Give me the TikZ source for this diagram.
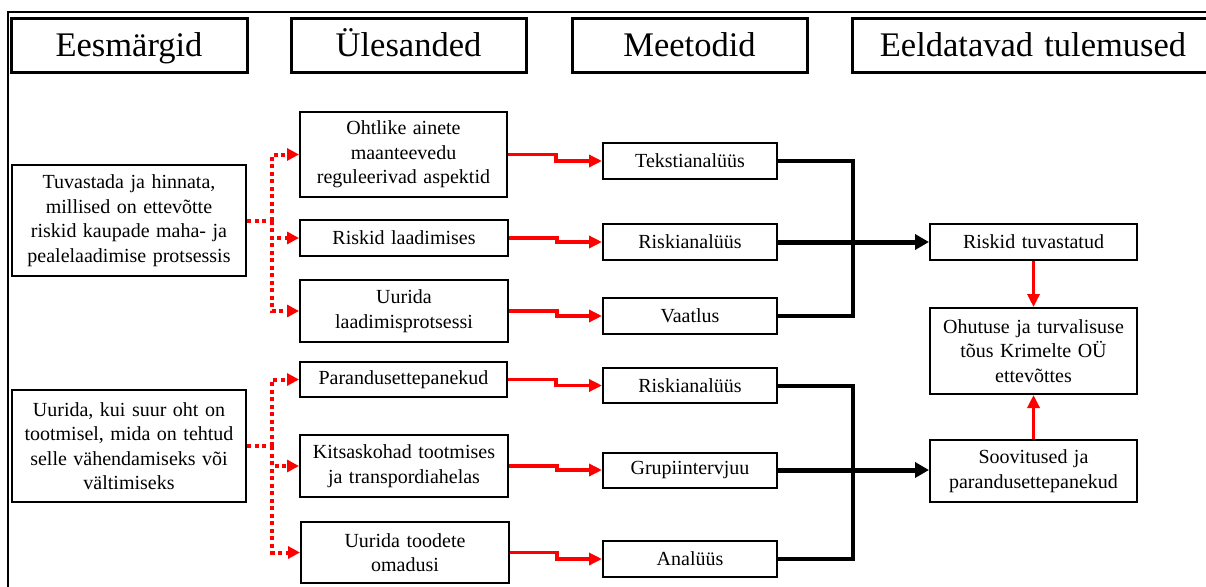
\documentclass[tikz,border=0pt]{standalone}
\usepackage{fontspec}
\setmainfont{Liberation Serif}[WordSpace=1.3]
\usetikzlibrary{arrows.meta}
\begin{document}
\begin{tikzpicture}[x=1pt,y=-1pt,
  hdr/.style={draw, line width=3pt, inner sep=0pt, minimum height=53pt, text height=27pt, text depth=5pt, font=\fontsize{34.5}{40}\selectfont},
  box/.style={draw, line width=2pt, inner sep=0pt, align=center, font=\fontsize{20}{24.5}\selectfont},
  dotline/.style={draw=red, line width=4pt, dash pattern=on 4pt off 3.5pt},
  dotarrow/.style={dotline, -{Triangle[length=12pt,width=12pt]}},
  redarrow/.style={draw=red, line width=3.5pt, -{Triangle[length=13pt,width=12pt]}},
  blk/.style={draw=black, line width=4pt},
  blkarrow/.style={draw=black, line width=5pt, -{Triangle[length=14pt,width=15pt]}}
]
\useasboundingbox (0,0) rectangle (1206,586);
\clip (0,0) rectangle (1206,586);
\fill[white] (0,0) rectangle (1206,586);
% frame
\draw[line width=2pt] (8,590) -- (8,12) -- (1215,12);
% headers
\node[hdr, minimum width=236pt] (hE) at (129,45.5) {Eesmärgid};
\node[hdr, minimum width=235pt] (hU) at (408.5,45.5) {Ülesanded};
\node[hdr, minimum width=235pt] (hM) at (689.5,45.5) {Meetodid};
\node[hdr, minimum width=362pt] (hT) at (1033,45.5) {Eeldatavad tulemused};
% goals
\node[box, minimum width=234pt, minimum height=111pt] (g1) at (129,220.5)
  {Tuvastada ja hinnata,\\millised on ettevõtte\\riskid kaupade maha- ja\\pealelaadimise protsessis};
\node[box, minimum width=234pt, minimum height=112pt] (g2) at (129,446)
  {Uurida, kui suur oht on\\tootmisel, mida on tehtud\\selle vähendamiseks või\\vältimiseks};
% tasks
\node[box, minimum width=207pt, minimum height=85pt] (t1) at (403.5,154.5)
  {Ohtlike ainete\\maanteevedu\\reguleerivad aspektid};
\node[box, minimum width=208pt, minimum height=36pt] (t2) at (404,238) {Riskid laadimises};
\node[box, minimum width=208pt, minimum height=62pt] (t3) at (404,311) {Uurida\\laadimisprotsessi};
\node[box, minimum width=207pt, minimum height=35pt] (t4) at (403.5,379.5) {Parandusettepanekud};
\node[box, minimum width=208pt, minimum height=62pt] (t5) at (404,466) {Kitsaskohad tootmises\\ja transpordiahelas};
\node[box, minimum width=208pt, minimum height=61pt] (t6) at (405,552.5) {Uurida toodete\\omadusi};
% methods
\node[box, minimum width=174pt, minimum height=36pt] (m1) at (690,161) {Tekstianalüüs};
\node[box, minimum width=174pt, minimum height=36pt] (m2) at (690,242) {Riskianalüüs};
\node[box, minimum width=174pt, minimum height=36pt] (m3) at (690,316) {Vaatlus};
\node[box, minimum width=174pt, minimum height=35pt] (m4) at (690,385.5) {Riskianalüüs};
\node[box, minimum width=174pt, minimum height=35pt] (m5) at (690,470) {Grupiintervjuu};
\node[box, minimum width=174pt, minimum height=36pt] (m6) at (690,559) {Analüüs};
% results
\node[box, minimum width=207pt, minimum height=36pt] (r1) at (1033.5,242) {Riskid tuvastatud};
\node[box, minimum width=207pt, minimum height=86pt] (r2) at (1033.5,351)
  {Ohutuse ja turvalisuse\\tõus Krimelte OÜ\\ettevõttes};
\node[box, minimum width=207pt, minimum height=62pt] (r3) at (1033.5,471)
  {Soovitused ja\\parandusettepanekud};
% branch points
\coordinate (b1) at (272,220.5);
\coordinate (b2) at (272,446);
\coordinate (j1) at (853,242);
\coordinate (j2) at (853,470);
% dotted red from goals to tasks
\draw[dotline] (g1.east) -- (b1);
\draw[dotarrow] (b1) |- (t1.west);
\draw[dotarrow] (b1) |- (t2.west);
\draw[dotarrow] (b1) |- (t3.west);
\draw[dotline] (g2.east) -- (b2);
\draw[dotarrow] (b2) |- (t4.west);
\draw[dotarrow] (b2) |- (t5.west);
\draw[dotarrow] (b2) |- (t6.west);
% red step arrows tasks -> methods
\draw[redarrow] (t1.east) -- ++(48,0) |- (m1.west);
\draw[redarrow] (t2.east) -- ++(48,0) |- (m2.west);
\draw[redarrow] (t3.east) -- ++(48,0) |- (m3.west);
\draw[redarrow] (t4.east) -- ++(48,0) |- (m4.west);
\draw[redarrow] (t5.east) -- ++(48,0) |- (m5.west);
\draw[redarrow] (t6.east) -- ++(47,0) |- (m6.west);
% black joins
\draw[blk, line join=miter] (m1.east) -| (j1) |- (m3.east);
\draw[blkarrow] (m2.east) -- (m2.east -| r1.west);
\draw[blk, line join=miter] (m4.east) -| (j2) |- (m6.east);
\draw[blkarrow] (m5.east) -- (m5.east -| r3.west);
% red vertical arrows
\draw[redarrow] (r1.south) -- (r2.north);
\draw[redarrow] (r3.north) -- (r2.south);
\end{tikzpicture}
\end{document}
